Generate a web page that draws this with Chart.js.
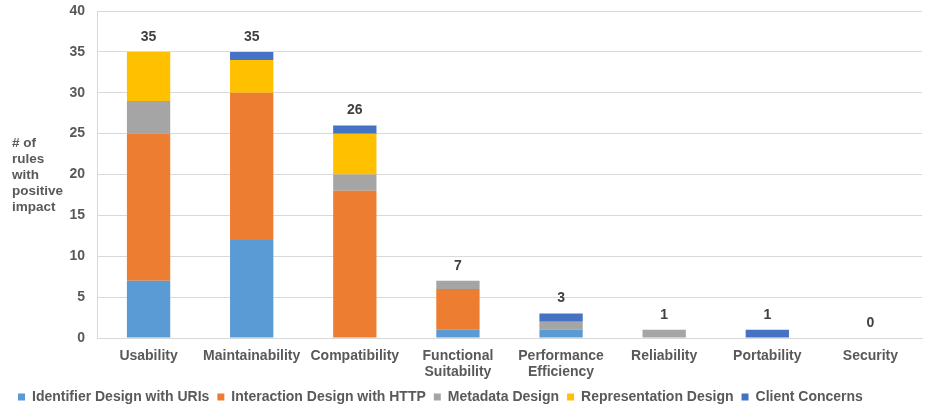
<!DOCTYPE html>
<html>
<head>
<meta charset="utf-8">
<script src="https://cdn.jsdelivr.net/npm/chart.js@4"></script>
<style>
  html, body { margin: 0; padding: 0; background: #fff; }
  #wrap { width: 925px; height: 409px; }
</style>
</head>
<body>
<div id="wrap"><canvas id="chart"></canvas></div>
<script>
// categories and series
const categories = [
  'Usability', 'Maintainability', 'Compatibility', ['Functional', 'Suitability'],
  ['Performance', 'Efficiency'], 'Reliability', 'Portability', 'Security'
];
const identifierURIs = [7, 12, 0, 1, 1, 0, 0, 0];
const interactionHTTP = [18, 18, 18, 5, 0, 0, 0, 0];
const metadataDesign = [4, 0, 2, 1, 1, 1, 0, 0];
const representationDesign = [6, 4, 5, 0, 0, 0, 0, 0];
const clientConcerns = [0, 1, 1, 0, 1, 0, 1, 0];
const yTicks = [0, 5, 10, 15, 20, 25, 30, 35, 40];
const yTitle = ['# of', 'rules', 'with', 'positive', 'impact'];

const grey = '#595959';
const fontFamily = 'Liberation Sans, Arial, sans-serif';
const font = { family: fontFamily, size: 14, weight: 'bold' };

// totals above each stack
const totalsPlugin = {
  id: 'totals',
  afterDatasetsDraw(chart) {
    const { ctx, scales } = chart;
    ctx.save();
    ctx.font = 'bold 14px ' + fontFamily;
    ctx.fillStyle = '#404040';
    ctx.textAlign = 'center';
    ctx.textBaseline = 'middle';
    categories.forEach((c, i) => {
      let total = 0;
      chart.data.datasets.forEach(ds => total += ds.data[i]);
      const x = scales.x.getPixelForValue(i);
      const y = scales.y.getPixelForValue(total) - 15;
      ctx.fillText(String(total), x, y);
    });
    ctx.restore();
  }
};

// horizontal y title on the left
const yTitlePlugin = {
  id: 'ytitle',
  afterDraw(chart) {
    const { ctx } = chart;
    ctx.save();
    ctx.font = 'bold 13.5px ' + fontFamily;
    ctx.fillStyle = grey;
    ctx.textAlign = 'left';
    ctx.textBaseline = 'middle';
    yTitle.forEach((t, i) => ctx.fillText(t, 12, 143 + i * 16));
    ctx.restore();
  }
};

new Chart(document.getElementById('chart'), {
  type: 'bar',
  data: {
    labels: categories,
    datasets: [
      { label: 'Identifier Design with URIs', data: identifierURIs, backgroundColor: '#5B9BD5' },
      { label: 'Interaction Design with HTTP', data: interactionHTTP, backgroundColor: '#ED7D31' },
      { label: 'Metadata Design', data: metadataDesign, backgroundColor: '#A5A5A5' },
      { label: 'Representation Design', data: representationDesign, backgroundColor: '#FFC000' },
      { label: 'Client Concerns', data: clientConcerns, backgroundColor: '#4472C4' }
    ]
  },
  options: {
    responsive: true,
    maintainAspectRatio: false,
    animation: false,
    datasets: { bar: { categoryPercentage: 1, barPercentage: 0.42, borderWidth: 0 } },
    layout: { padding: { top: 11, right: 3, left: 10, bottom: -5 } },
    scales: {
      x: {
        stacked: true,
        grid: { display: false },
        border: { color: '#d9d9d9' },
        ticks: { color: grey, font: { ...font, lineHeight: 16 / 14 }, padding: 2, maxRotation: 0, autoSkip: false }
      },
      y: {
        stacked: true,
        min: 0,
        max: 40,
        afterBuildTicks(scale) { scale.ticks = yTicks.map(v => ({ value: v })); },
        afterFit(scale) { scale.width = 87; scale.paddingTop = 0; scale.paddingBottom = 0; },
        grid: { color: '#d9d9d9', drawTicks: false },
        border: { color: '#d9d9d9' },
        ticks: { color: grey, font: font, padding: 12 }
      }
    },
    plugins: {
      legend: {
        position: 'bottom',
        align: 'start',
        labels: { color: grey, font: font, boxWidth: 7, boxHeight: 7, padding: 8 }
      },
      tooltip: { enabled: false }
    }
  },
  plugins: [totalsPlugin, yTitlePlugin]
});
</script>
</body>
</html>
